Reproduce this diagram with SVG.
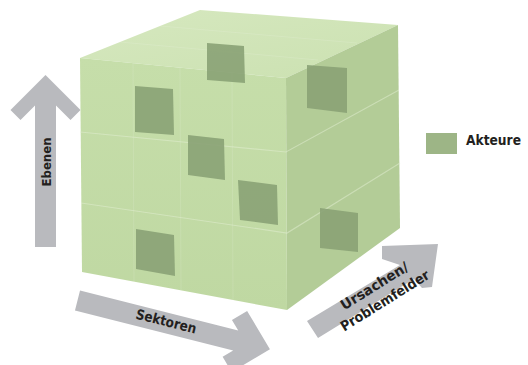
<svg xmlns="http://www.w3.org/2000/svg" width="528" height="365" viewBox="0 0 528 365">
  <style>
    .arrow { fill: #b9babe; }
    .lbl { font-family: "DejaVu Sans Condensed", "DejaVu Sans", "Liberation Sans", sans-serif; font-weight: bold; fill: #231f20; }
    .layer { fill: none; stroke: #e4f0d4; stroke-opacity: 0.5; stroke-width: 1.2; }
    .col { fill: none; stroke: #ffffff; stroke-opacity: 0.12; stroke-width: 1; }
    .actor { fill: #8aa276; fill-opacity: 0.9; filter: url(#soft); }
  </style>
  <defs>
    <filter id="soft" x="-10%" y="-10%" width="120%" height="120%">
      <feGaussianBlur stdDeviation="0.6"/>
    </filter>
    <linearGradient id="gFront" x1="0" y1="0" x2="0" y2="1">
      <stop offset="0" stop-color="#c6deaa"/>
      <stop offset="1" stop-color="#bfd8a2"/>
    </linearGradient>
    <linearGradient id="gTop" x1="0" y1="0" x2="1" y2="1">
      <stop offset="0" stop-color="#d6e8bf"/>
      <stop offset="1" stop-color="#cbe1b1"/>
    </linearGradient>
  </defs>

  <g id="cube">
    <polygon points="80,58 200,10 398,25 286,78" fill="url(#gTop)"/>
    <polygon points="80,58 286,78 287,310 82,272" fill="url(#gFront)"/>
    <polygon points="286,78 398,25 400,228 287,310" fill="#b3cc97"/>
    <g id="grid">
      <polyline class="col" points="133,63 134,282"/>
      <polyline class="col" points="180,68 181,290"/>
      <polyline class="col" points="232,73 233,300"/>
      <polyline class="col" points="120,42 318,60"/>
      <polyline class="col" points="160,26 357,43"/>
      <polyline class="layer" points="80,132 286,152 399,90"/>
      <polyline class="layer" points="81,203 287,233 400,163"/>
    </g>
  </g>

  <g id="actor-1"><polygon class="actor" points="135,86 173,89 174,135 135,132"/></g>
  <g id="actor-2"><polygon class="actor" points="207,43 244,46 245,83 207,80"/></g>
  <g id="actor-3"><polygon class="actor" points="307,65 347,68 347,113 307,108"/></g>
  <g id="actor-4"><polygon class="actor" points="188,135 224,139 225,180 188,175"/></g>
  <g id="actor-5"><polygon class="actor" points="238,180 277,185 278,225 240,220"/></g>
  <g id="actor-6"><polygon class="actor" points="320,208 358,213 358,252 320,248"/></g>
  <g id="actor-7"><polygon class="actor" points="136,229 174,235 175,276 136,269"/></g>

  <g id="connectors">
    <g id="arrow-ebenen">
      <polygon class="arrow" transform="translate(45.5,247) rotate(-90)" points="0,-10.5 141.5,-10.5 127,-25 137,-35 172,0 137,35 127,25 141.5,10.5 0,10.5"/>
      <text class="lbl" font-size="13" text-anchor="middle" transform="translate(46,162) rotate(-90)" x="0" y="5" textLength="49" lengthAdjust="spacingAndGlyphs">Ebenen</text>
    </g>
    <g id="arrow-sektoren">
      <polygon class="arrow" transform="translate(77.5,300.5) rotate(14.2)" points="0,-10.3 163.2,-10.3 154.5,-19 167,-31.5 198.5,0 167,31.5 154.5,19 163.2,10.3 0,10.3"/>
      <text class="lbl" font-size="14" text-anchor="middle" transform="translate(165,326) rotate(14.2)" x="0" y="0" textLength="62" lengthAdjust="spacingAndGlyphs">Sektoren</text>
    </g>
    <g id="arrow-ursachen">
      <polygon class="arrow" points="307,321 400,265 382,259 382,246 438,244 432,287 422,288 414,279 318,338"/>
      <text class="lbl" font-size="14" text-anchor="middle" transform="translate(377,290) rotate(-32)" x="0" y="0" textLength="77" lengthAdjust="spacingAndGlyphs">Ursachen/</text>
      <text class="lbl" font-size="14" text-anchor="middle" transform="translate(377,290) rotate(-32)" x="1" y="18" textLength="102" lengthAdjust="spacingAndGlyphs">Problemfelder</text>
    </g>
  </g>

  <g id="legend">
    <rect x="426" y="133" width="31" height="21" fill="#9db586"/>
    <text class="lbl" font-size="14" x="466" y="145" textLength="55" lengthAdjust="spacingAndGlyphs">Akteure</text>
  </g>
</svg>
